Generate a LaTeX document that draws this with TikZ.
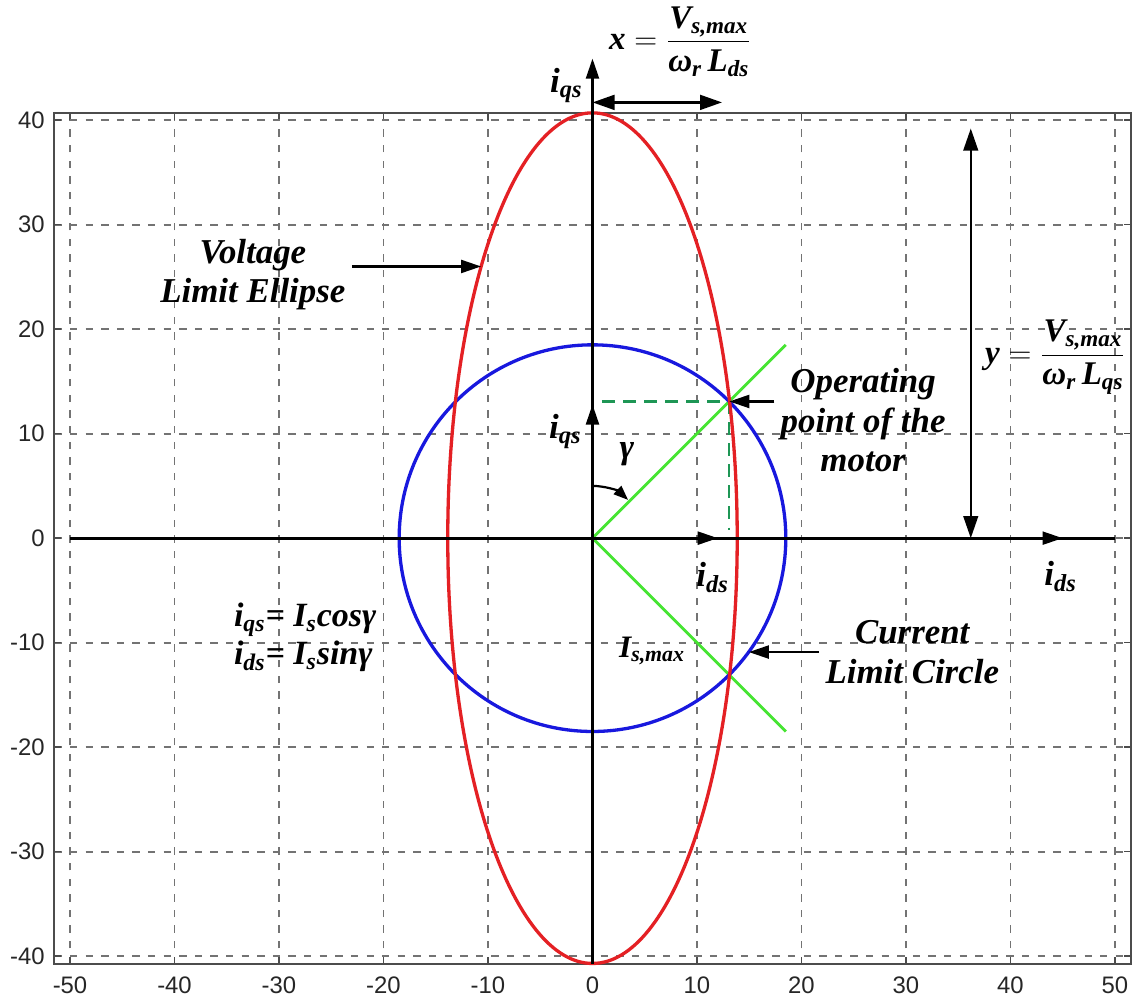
\documentclass[tikz,border=0pt]{standalone}
\usepackage{amsmath}
\usepackage{fontspec}
\setmainfont{Liberation Serif}
\setsansfont{Liberation Sans}
\usepackage{xcolor}
\usepackage{tikz}
\usetikzlibrary{arrows.meta}

\definecolor{ellred}{RGB}{228,32,36}
\definecolor{circblue}{RGB}{24,24,222}
\definecolor{vecgreen}{RGB}{70,228,50}
\definecolor{projgreen}{RGB}{30,150,85}

\begin{document}
\begin{tikzpicture}[
    x=2mm, y=2mm,
    gridln/.style={black!55, line width=1.05pt, dash pattern=on 4pt off 4.5pt},
    frame/.style={black!70, line width=1.1pt},
    axisln/.style={line width=1.5pt},
    arr/.style={-{Triangle[length=11pt, width=7pt]}, line width=1.5pt},
    dimarr/.style={{Triangle[length=12pt, width=8pt]}-{Triangle[length=12pt, width=8pt]}, line width=1.5pt},
    curveln/.style={line width=1.8pt},
    proj/.style={projgreen, line width=1.3pt, dash pattern=on 7pt off 4.5pt},
    note/.style={font=\fontsize{19}{21.5}\selectfont\bfseries\itshape, align=center},
    sym/.style={font=\fontsize{19}{22}\selectfont\bfseries\itshape},
    formula/.style={font=\fontsize{18}{21}\selectfont\bfseries\itshape},
    ticklbl/.style={font=\sffamily\fontsize{13}{15}\selectfont, text=black!85, inner sep=0pt},
]
\useasboundingbox (-56.7,-44.3) rectangle (52.3,51.5);

% grid and frame
\foreach \gx in {-50,-40,...,50} {
    \draw[gridln] (\gx,-40.75) -- (\gx,40.7);
    \draw[frame, line width=0.8pt] (\gx,-40.75) -- (\gx,-40.1);
    \draw[frame, line width=0.8pt] (\gx,40.7) -- (\gx,40.05);
    \node[ticklbl] at (\gx,-42.8) {\gx};
}
\foreach \gy in {-40,-30,...,40} {
    \draw[gridln] (-51.5,\gy) -- (51.5,\gy);
    \draw[frame, line width=0.8pt] (-51.5,\gy) -- (-50.85,\gy);
    \draw[frame, line width=0.8pt] (51.5,\gy) -- (50.85,\gy);
    \node[ticklbl, anchor=east] at (-52.4,\gy) {\gy};
}
\draw[frame] (-51.5,-40.75) rectangle (51.5,40.7);

% current vector and limits
\coordinate (origin) at (0,0);
\coordinate (op) at (13.08,13.08);
\draw[vecgreen, line width=1.6pt] (origin) -- (18.5,18.5);
\draw[vecgreen, line width=1.6pt] (origin) -- (18.5,-18.5);
\draw[proj] (0.9,13.08) -- (op) -- (13.08,0.8);
\draw[circblue, curveln] (origin) circle [radius=18.5];
\draw[ellred, curveln] (origin) ellipse [x radius=13.85, y radius=40.7];

% axes
\draw[axisln] (-50,0) -- (50,0);
\draw[arr] (origin) -- (45,0);
\draw[arr] (0,-40.75) -- (0,45.9);
\draw[arr] (origin) -- (12,0);
\draw[arr] (origin) -- (0,12.8);
\draw[-{Triangle[length=8pt, width=6pt]}, line width=1.2pt] (0,5) arc [start angle=90, end angle=47, radius=5];

\node[sym] (iqtop) at (-2.5,43.3) {i\textsubscript{qs}};
\node[sym] (idright) at (44.8,-3.7) {i\textsubscript{ds}};
\node[sym] (iqvec) at (-2.6,10.2) {i\textsubscript{qs}};
\node[sym] (idvec) at (11.5,-3.8) {i\textsubscript{ds}};
\node[sym] (gam) at (3.3,8.0) {γ};
\node[sym, font=\fontsize{17}{20}\selectfont\bfseries\itshape] (ismax) at (5.7,-10.8) {I\textsubscript{s,max}};
\node[note, align=left, font=\fontsize{18.5}{21}\selectfont\bfseries\itshape] (relations) at (-27.5,-9.5) {i\textsubscript{qs}= I\textsubscript{s}cosγ\\i\textsubscript{ds}= I\textsubscript{s}sinγ};

% dimensions of the ellipse
\node[formula] (xform) at (8.4,47.5) {$\text{x} = \dfrac{\text{V\textsubscript{s,max}}}{\text{ω\textsubscript{r}\,L\textsubscript{ds}}}$};
\node[formula] (yform) at (44.3,17.3) {$\text{y} = \dfrac{\text{V\textsubscript{s,max}}}{\text{ω\textsubscript{r}\,L\textsubscript{qs}}}$};
\coordinate (xa) at (0,41.7);
\coordinate (xb) at (12.4,41.7);
\coordinate (ya) at (36.2,39.2);
\coordinate (yb) at (36.2,0);
\draw[dimarr] (xa) -- (xb);
\draw[dimarr, line width=1.1pt] (ya) -- (yb);

% notes
\node[note] (vnote) at (-32.5,25.2) {Voltage\\Limit Ellipse};
\node[note] (opnote) at (25.9,11.3) {Operating\\point of the\\motor};
\node[note] (cnote) at (30.6,-10.9) {Current\\Limit Circle};
\coordinate (ellpt) at (-10.65,26);
\coordinate (circpt) at (14.95,-10.9);
\draw[arr] (vnote.east |- ellpt) -- (ellpt);
\draw[arr] (opnote.west |- op) -- (op);
\draw[arr] (cnote.west |- circpt) -- (circpt);

\end{tikzpicture}
\end{document}
